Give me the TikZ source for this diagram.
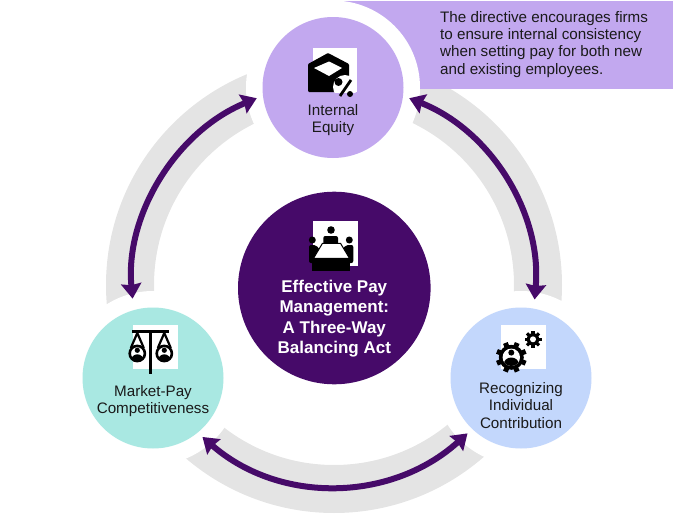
\documentclass[tikz,border=0pt]{standalone}
\usepackage{fontspec}
\setmainfont{Liberation Sans}
\usetikzlibrary{arrows.meta}
\definecolor{deep}{HTML}{460A69}
\definecolor{lilac}{HTML}{C2A8EF}
\definecolor{aqua}{HTML}{A9E8E2}
\definecolor{sky}{HTML}{C3D7FC}
\definecolor{ringgrey}{HTML}{E4E4E4}
\definecolor{ink}{HTML}{1A1A1A}
\tikzset{
  hub/.style={circle,minimum size=141pt,inner sep=0pt,outer sep=6.5pt},
  halo/.style={circle,fill=white,minimum size=174pt,inner sep=0pt},
  caption/.style={align=center,text=ink,inner sep=0pt,font=\fontsize{15.2}{17.4}\selectfont},
  flow/.style={deep,line width=6pt,{Stealth[length=15pt,width=20pt,inset=1.5pt]}-{Stealth[length=15pt,width=20pt,inset=1.5pt]}},
  glyph/.style={fill=black,draw=none}
}
\begin{document}
\begin{tikzpicture}[x=1pt,y=-1pt]
\useasboundingbox (0,0) rectangle (673,514);
% grey ring
\draw[ringgrey,line width=48pt] (334,285) circle[radius=204pt];
% note box
\fill[lilac] (333,1) rectangle (673,89);
% halos
\node[halo] at (333,87.5) {};
\node[halo] at (153,378) {};
\node[halo] at (521,378) {};
% nodes
\node[hub,fill=lilac] (top) at (333,87.5) {};
\node[hub,fill=aqua] (left) at (153,378) {};
\node[hub,fill=sky] (right) at (521,378) {};
\node[circle,fill=deep,minimum size=192.6pt,inner sep=0pt] (mid) at (334.3,288) {};
% connectors
\draw[flow,shorten >=5pt] (top.188) to[out=202.4,in=95.4,looseness=.94] (left.105);
\draw[flow,shorten >=2.7pt] (top.-8) to[out=-21.7,in=85,looseness=.948] (right.80);
\draw[flow] (left.-50) to[out=-41,in=222.1,looseness=.988] (right.226);
% text
\node[caption,align=left,anchor=west] (note) at (440,44.2) {The directive encourages firms\\to ensure internal consistency\\when setting pay for both new\\and existing employees.};
\node[caption] (toplabel) at (333,120) {Internal\\Equity};
\node[caption] (leftlabel) at (153,401) {Market-Pay\\Competitiveness};
\node[caption] (rightlabel) at (521,405.5) {Recognizing\\Individual\\Contribution};
\node[align=center,text=white,inner sep=0pt,font=\fontsize{17}{20.3}\selectfont\bfseries] (midlabel) at (334.3,318.5) {Effective Pay\\Management:\\A Three-Way\\Balancing Act};
% envelope icon
\fill[white] (313,48) rectangle (357,92);
\fill[glyph,rounded corners=1pt] (308,64) -- (328,53) -- (349,64) -- (349,92) -- (308,92) -- cycle;
\fill[white] (314,68) -- (329,61.5) -- (342,68) -- (329,76) -- cycle;
\begin{scope}
\clip (300,48) rectangle (357,92);
\fill[white] (345,87) circle[radius=12pt];
\end{scope}
\fill[glyph] (338.5,82) circle[radius=4pt];
\fill[glyph] (350,94) circle[radius=3pt];
\draw[black,line width=2.8pt] (340,96) -- (351,80);
% scales icon
\fill[white] (132.7,325) rectangle (177.7,369);
\draw[black,line width=3pt] (132,331.7) -- (169,331.7);
\draw[black,line width=3pt] (150.3,331) -- (150.3,373.5);
\foreach \cx in {137.3,164.3}{
  \draw[black,line width=2.2pt,line join=round] (\cx,333) -- (\cx-6.5,348) (\cx,333) -- (\cx+6.5,348);
  \fill[white] (\cx,353.5) circle[radius=8pt];
  \begin{scope}
    \clip (\cx,353.5) circle[radius=7.6pt];
    \fill[glyph] (\cx,350.3) circle[radius=2.6pt];
    \fill[glyph] (\cx,360.5) ellipse[x radius=6.2pt,y radius=6.2pt];
  \end{scope}
  \draw[black,line width=2.6pt] (\cx,353.5) circle[radius=7.6pt];
}
% gears icon
\fill[white] (500.7,325) rectangle (546,369);
\foreach \a in {0,45,...,315}{
  \fill[glyph,rotate around={\a+22.5:(511.3,357.3)}] (508.8,341.8) rectangle (513.8,350);
  \fill[glyph,rotate around={\a:(533,339.3)}] (531.4,330.8) rectangle (534.6,335);
}
\fill[glyph] (511.3,357.3) circle[radius=12.5pt];
\fill[white] (511.3,357.3) circle[radius=8.7pt];
\begin{scope}
  \clip (511.3,357.3) circle[radius=8.7pt];
  \fill[glyph] (511.3,352.6) circle[radius=3pt];
  \fill[glyph] (511.3,364) ellipse[x radius=7.5pt,y radius=6.5pt];
\end{scope}
\fill[glyph] (533,339.3) circle[radius=6.2pt];
\fill[white] (533,339.3) circle[radius=3pt];
% meeting icon
\fill[white] (313.3,221) rectangle (358.3,266);
\fill[glyph] (331,230) circle[radius=3.8pt];
\fill[glyph] (312.3,240) circle[radius=3.5pt];
\fill[glyph] (349.3,240) circle[radius=3.5pt];
\fill[glyph,rounded corners=2pt] (323.3,245) -- (323.3,236) -- (338,236) -- (338,245) -- cycle;
\fill[glyph,rounded corners=2pt] (309,263) -- (309,245) -- (316,245) -- (320,250) -- (316,263) -- cycle;
\fill[glyph,rounded corners=2pt] (353.3,263) -- (353.3,245) -- (346,245) -- (342,250) -- (346,263) -- cycle;
\fill[glyph] (312,258) rectangle (350,270.7);
\draw[black,line width=1pt,fill=white] (322.5,243.3) -- (340.5,243.3) -- (349.5,258.3) -- (313.5,258.3) -- cycle;
\end{tikzpicture}
\end{document}
